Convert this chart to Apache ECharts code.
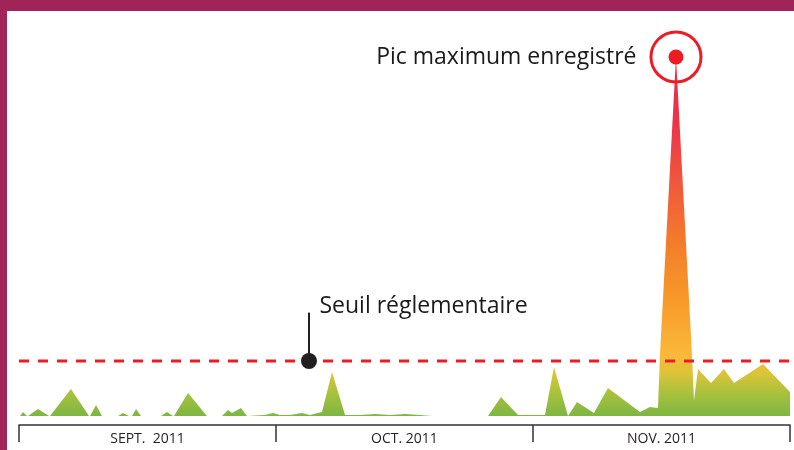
<!DOCTYPE html>
<html><head><meta charset="utf-8">
<script src="https://cdn.jsdelivr.net/npm/echarts@6/dist/echarts.min.js"></script>
<style>html,body{margin:0;padding:0;background:#fff}#c{width:794px;height:450px}</style>
</head><body><div id="c"></div>
<script>
// Month labels (equal-width bands on the axis)
const months = ['SEPT.  2011', 'OCT. 2011', 'NOV. 2011'];
// Position along the time axis, in days from 1 Sept (30 days per band); null values mark breaks
const days = [0.12,0.47,0.93, 1.0, 1.05,2.22,3.5, 3.56, 3.62,6.07,8.17, 8.23, 8.29,8.99,9.69, 10.6, 11.56,12.14,12.84, 13.0, 13.19,13.66,14.24, 15.4,
  16.58,17.28,17.98, 18.03, 18.09,19.73,21.94, 22.8, 23.7,24.4,24.86,25.91,26.61,
  26.73,28.72,29.65,30.47,31.63,33.03,33.97,35.37,36.54,38.06,39.81,41.56,43.31,45.06,46.81,48.21, 51.5,
  54.75,56.26,58.25,61.4,
  61.52,62.45,64.09,65.14,67.12,68.75,72.49,73.65,74.59,74.82,76.69,78.56,78.79,79.26,80.78,82.29,83.46,86.85,90];
// Measured concentration at each position
const values = [0,3.6,0, null, 0,6.4,0, null, 0,24.5,0, null, 0,10,0, null, 0,2.7,0, null, 0,6.4,0, null,
  0,3.6,0, null, 0,20.9,0, null, 0,5.5,2.7,7.3,0,
  0.9,0.9,2.7,0.9,0.9,2.7,0.9,3.6,40,0.9,0.9,1.8,0.9,1.8,0.9,0, null,
  0,17.3,0.9,0.9,
  0,44.5,0,12.7,2.7,25.5,3.6,8.2,7.3,55.5,326.4,55.5,13.6,42.7,30,42.7,30,47.3,21.8];
const threshold = 50;          // seuil réglementaire
const seuilMarkerDay = 33.85;  // where the threshold callout sits
const seuilLabelValue = 94;    // top of the callout stem
const yMax = 340;
const labelPic = 'Pic maximum enregistré';
const labelSeuil = 'Seuil réglementaire';

const seriesData = days.map((d, i) => [d, values[i]]);
let pi = 0; values.forEach((v, i) => { if (v !== null && v > values[pi]) pi = i; });
const peak = [days[pi], values[pi]];

const FONT = '"Open Sans", sans-serif';
const chart = echarts.init(document.getElementById('c'), null, {renderer: 'canvas'});
chart.setOption({
  animation: false,
  backgroundColor: '#fff',
  grid: [
    {left: 19, right: 4, top: 42, bottom: 34},
    {left: 19, right: 0, top: 42, bottom: 34}
  ],
  xAxis: [
    {type: 'category', gridIndex: 0, data: months, boundaryGap: true, offset: 9,
     axisLine: {onZero: false, lineStyle: {color: '#333', width: 1.5}},
     axisTick: {show: true, length: 17, interval: 0, lineStyle: {color: '#333', width: 1.5}},
     axisLabel: {color: '#231f20', fontSize: 14, fontFamily: FONT, margin: 7, interval: 0},
     splitLine: {show: false}},
    {type: 'value', gridIndex: 0, min: 0, max: 90, show: false, position: 'top'},
    {type: 'value', gridIndex: 1, min: 0, max: 1, show: false}
  ],
  yAxis: [
    {type: 'value', gridIndex: 0, min: 0, max: yMax, show: false},
    {type: 'value', gridIndex: 1, min: 0, max: yMax, show: false}
  ],
  series: [
    {type: 'line', xAxisIndex: 1, yAxisIndex: 0, data: seriesData, symbol: 'none', z: 2,
     connectNulls: false,
     lineStyle: {width: 0, opacity: 0},
     areaStyle: {opacity: 1, color: new echarts.graphic.LinearGradient(0, 1, 0, 0, [
       {offset: 0, color: '#7db643'},
       {offset: 0.06, color: '#a6c13d'},
       {offset: 0.12, color: '#dcc438'},
       {offset: 0.17, color: '#fbb93a'},
       {offset: 0.32, color: '#f89a2a'},
       {offset: 0.46, color: '#f4812a'},
       {offset: 0.64, color: '#f05a3a'},
       {offset: 0.82, color: '#ee3249'},
       {offset: 1, color: '#ee2a4d'}
     ])}},
    {type: 'line', xAxisIndex: 2, yAxisIndex: 1, data: [[0, threshold], [1, threshold]], symbol: 'none', z: 5,
     lineStyle: {color: '#ed1c24', width: 3, type: [10, 9]}},
    {type: 'line', xAxisIndex: 1, yAxisIndex: 0, data: [[seuilMarkerDay, threshold], [seuilMarkerDay, seuilLabelValue]],
     symbol: 'none', z: 6, lineStyle: {color: '#231f20', width: 2}},
    {type: 'scatter', xAxisIndex: 1, yAxisIndex: 0, data: [[seuilMarkerDay, threshold]], symbolSize: 16, z: 7,
     itemStyle: {color: '#231f20', opacity: 1}},
    {type: 'scatter', xAxisIndex: 1, yAxisIndex: 0, data: [[seuilMarkerDay, seuilLabelValue]], symbolSize: 1, z: 7,
     itemStyle: {color: 'rgba(0,0,0,0)', opacity: 1},
     label: {show: true, position: 'right', distance: 10, offset: [0, -6], formatter: labelSeuil,
       color: '#1a1a1a', fontSize: 23, fontFamily: FONT}},
    {type: 'scatter', xAxisIndex: 1, yAxisIndex: 0, data: [peak], symbolSize: 50, z: 7,
     itemStyle: {color: 'rgba(255,255,255,0)', borderColor: '#ed1c24', borderWidth: 3, opacity: 1},
     label: {show: true, position: 'left', distance: 13, offset: [0, 0], formatter: labelPic,
       color: '#1a1a1a', fontSize: 23, fontFamily: FONT}},
    {type: 'scatter', xAxisIndex: 1, yAxisIndex: 0, data: [peak], symbolSize: 15, z: 8,
     itemStyle: {color: '#ed1c24', opacity: 1}}
  ],
  graphic: [
    {type: 'rect', z: 100, shape: {x: 0, y: 0, width: 794, height: 11}, style: {fill: '#a12459'}},
    {type: 'rect', z: 100, shape: {x: 0, y: 0, width: 7, height: 450}, style: {fill: '#a12459'}}
  ]
});
</script></body></html>
